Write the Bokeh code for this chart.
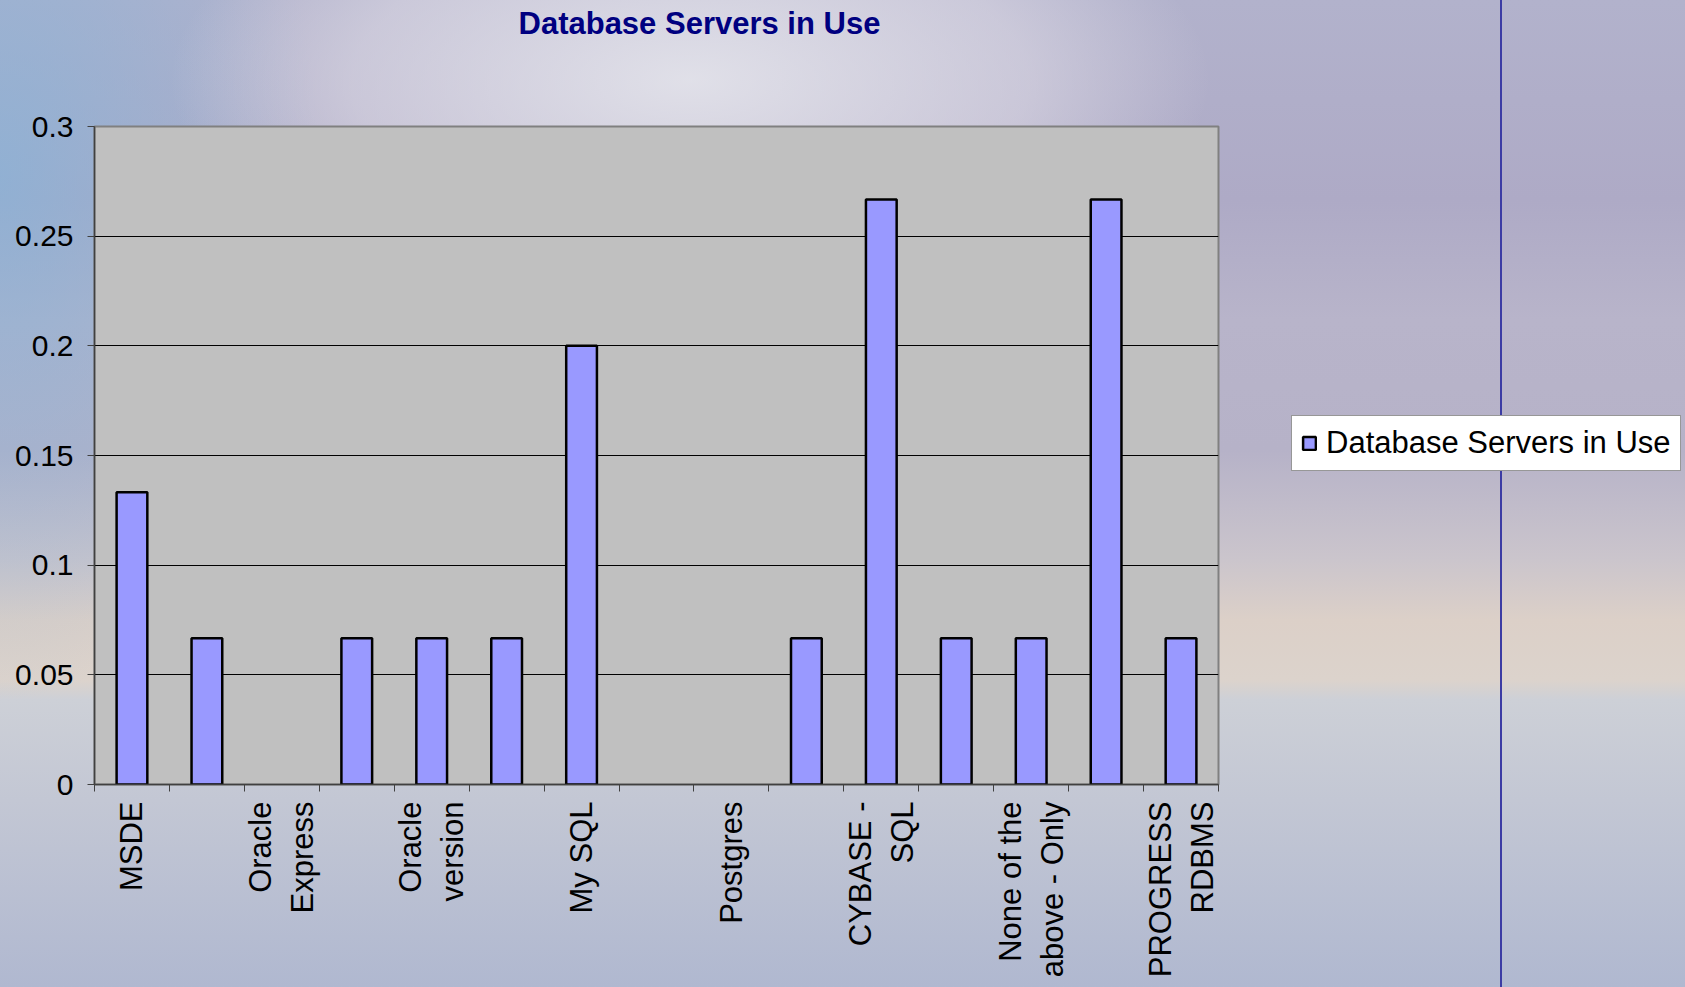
import math
from bokeh.plotting import figure
from bokeh.models import (FixedTicker, Legend, LegendItem, ColumnDataSource, Range1d, Title)
from bokeh.embed import file_html
from bokeh.resources import INLINE

# ---- data ----
categories = ["MSDE", "", "Oracle\nExpress", "", "Oracle\nversion", "", "My SQL", "",
              "Postgres", "", "CYBASE -\nSQL", "", "None of the\nabove - Only", "",
              "PROGRESS\nRDBMS"]
values = [0.1333, 0.0667, 0.0, 0.0667, 0.0667, 0.0667, 0.2, 0.0,
          0.0, 0.0667, 0.2667, 0.0667, 0.0667, 0.2667, 0.0667]
y_ticks = [0, 0.05, 0.1, 0.15, 0.2, 0.25, 0.3]
y_tick_labels = ["0", "0.05", "0.1", "0.15", "0.2", "0.25", "0.3"]
series_name = "Database Servers in Use"
title_text = "Database Servers in Use"

FONT = "Liberation Sans"
W, H = 1685, 987
LEFT, FRAME_W, TOP, FRAME_H = 94, 1124, 126, 658

n = len(categories)
xs = [i + 0.5 for i, v in enumerate(values) if v > 0]
tops = [v for v in values if v > 0]
src = ColumnDataSource(dict(x=xs, top=tops))

p = figure(frame_width=FRAME_W, frame_height=FRAME_H, output_backend="svg", toolbar_location=None,
           x_range=Range1d(0, n), y_range=Range1d(0, 0.3), title=title_text,
           min_border_left=LEFT, min_border_right=W - LEFT - FRAME_W,
           min_border_top=TOP, min_border_bottom=H - TOP - FRAME_H)

p.border_fill_color = None
p.background_fill_color = "#c0c0c0"
p.outline_line_color = "#808080"
p.outline_line_width = 2

bg = ", ".join([
    "linear-gradient(to right, rgba(0,0,0,0) 1500px, #3c3ca4 1500px, #3c3ca4 1502px, rgba(0,0,0,0) 1502px)",
    "radial-gradient(ellipse 520px 230px at 690px 80px, rgba(236,236,240,0.8) 0%, rgba(228,224,232,0.5) 65%, rgba(228,224,232,0) 100%)",
    "radial-gradient(ellipse 320px 520px at 0px 180px, rgba(135,178,215,0.75) 0%, rgba(135,178,215,0) 100%)",
    "linear-gradient(to bottom, #b2b2cc 0px, #aeaac6 200px, #b8b4ca 320px, #b6b2c8 450px, "
    "#cbc5cc 560px, #dcd0c8 620px, #dcd3cc 680px, #cdd0d7 700px, #c3c7d4 800px, #b0b8d0 987px)",
])
p.styles = {"background-image": bg}

r = p.vbar(x="x", top="top", width=0.41, bottom=0, source=src,
           fill_color="#9999ff", line_color="black", line_width=2.5)

# x axis
p.xaxis.ticker = FixedTicker(ticks=[i + 0.5 for i in range(n)], minor_ticks=list(range(n + 1)))
p.xaxis.major_label_overrides = {i + 0.5: lab for i, lab in enumerate(categories)}
p.xaxis.major_label_orientation = math.pi / 2
p.xaxis.major_tick_in = 0
p.xaxis.major_tick_out = 0
p.xaxis.minor_tick_in = 0
p.xaxis.minor_tick_out = 7
p.xaxis.minor_tick_line_color = "#404040"
p.xaxis.axis_line_color = "#404040"
p.xaxis.axis_line_width = 1.5
p.xaxis.major_label_text_font = FONT
p.xaxis.major_label_text_font_size = "31px"
p.xaxis.major_label_text_color = "black"
p.xaxis.major_label_standoff = 10

# y axis
p.yaxis.ticker = FixedTicker(ticks=y_ticks)
p.yaxis.major_label_overrides = {t: l for t, l in zip(y_ticks, y_tick_labels)}
p.yaxis.major_tick_in = 0
p.yaxis.major_tick_out = 7
p.yaxis.major_tick_line_color = "#404040"
p.yaxis.minor_tick_line_color = None
p.yaxis.axis_line_color = "#404040"
p.yaxis.axis_line_width = 1.5
p.yaxis.major_label_text_font = FONT
p.yaxis.major_label_text_font_size = "30px"
p.yaxis.major_label_text_color = "black"
p.yaxis.major_label_standoff = 14

p.xgrid.grid_line_color = None
p.ygrid.grid_line_color = "black"
p.ygrid.grid_line_width = 1

# spacer between the frame and the title (pushes the title to the top of the page)
spacer = Title(text=" ", text_font_size="1px", standoff=83)
p.add_layout(spacer, "above")

# title
p.title.align = "left"
p.title.offset = 518 - LEFT
p.title.text_font = FONT
p.title.text_font_size = "31px"
p.title.text_font_style = "bold"
p.title.text_color = "#000080"
p.title.standoff = 0

legend = Legend(items=[LegendItem(label=series_name, renderers=[r])],
                location=(1291 - (LEFT + FRAME_W), (TOP + FRAME_H) - 471), margin=0, padding=9, spacing=0,
                glyph_width=16, glyph_height=16, label_standoff=9,
                label_text_font=FONT, label_text_font_size="31px", label_text_color="black",
                border_line_color="#303030", border_line_width=1,
                background_fill_color="white", background_fill_alpha=1)
p.add_layout(legend, "right")

open("out.html", "w").write(file_html(p, INLINE))
